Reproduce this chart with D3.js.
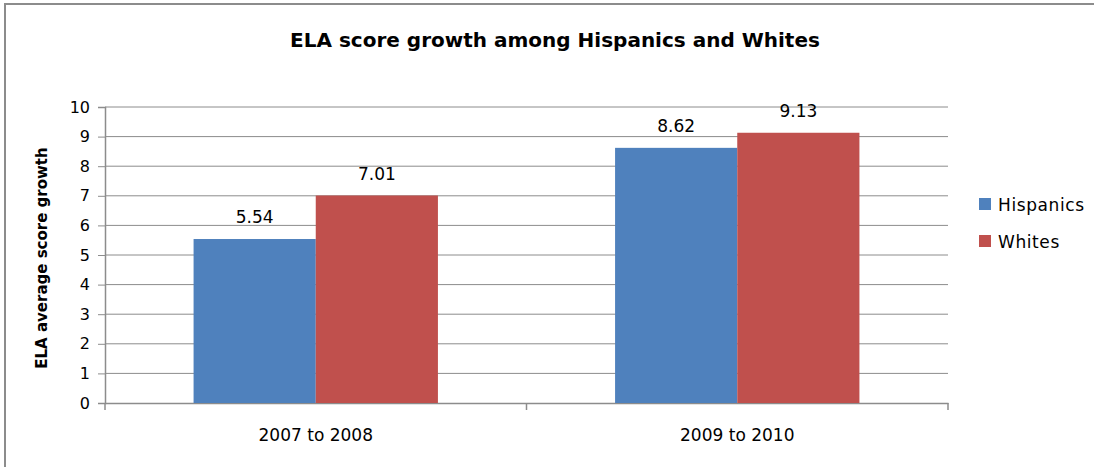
<!DOCTYPE html>
<html>
<head>
<meta charset="utf-8">
<script src="https://cdn.jsdelivr.net/npm/d3@7"></script>
<style>
  body { margin: 0; background: #fff; }
  text { font-family: "DejaVu Sans", sans-serif; fill: #000; }
</style>
</head>
<body>
<div id="chart"></div>
<script>
// Chart data
const categories = ["2007 to 2008", "2009 to 2010"];
const seriesNames = ["Hispanics", "Whites"];
const hispanics = [5.54, 8.62];
const whites = [7.01, 9.13];
const yTicks = [0, 1, 2, 3, 4, 5, 6, 7, 8, 9, 10];
const colors = ["#4F81BD", "#C0504D"];

const W = 1094, H = 467;
const margin = { top: 107, right: 146, bottom: 64, left: 105 },
      width = W - margin.left - margin.right,
      height = H - margin.top - margin.bottom;

const svg = d3.select("#chart")
    .append("svg")
    .attr("width", W)
    .attr("height", H);

// Outer frame (only left and top edges are visible)
svg.append("rect")
    .attr("x", 5).attr("y", 4)
    .attr("width", W + 20).attr("height", H + 20)
    .attr("fill", "none")
    .attr("stroke", "#8c8c8c")
    .attr("stroke-width", 2);

// Title
svg.append("text")
    .attr("x", 555)
    .attr("y", 47)
    .attr("text-anchor", "middle")
    .style("font-weight", "bold")
    .style("font-size", "20px")
    .text("ELA score growth among Hispanics and Whites");

const g = svg.append("g")
    .attr("transform", `translate(${margin.left},${margin.top})`);

// Scales
const x0 = d3.scaleBand()
    .domain(categories)
    .range([0, width])
    .paddingInner(0)
    .paddingOuter(0);

const x1 = d3.scaleBand()
    .domain(seriesNames)
    .range([0, x0.bandwidth()])
    .paddingOuter(0.725)
    .paddingInner(0);

const y = d3.scaleLinear()
    .domain([0, 10])
    .range([height, 0]);

// Gridlines
g.selectAll(".grid")
    .data(yTicks.filter(d => d > 0))
    .enter().append("line")
    .attr("x1", 0).attr("x2", width)
    .attr("y1", d => y(d)).attr("y2", d => y(d))
    .attr("stroke", "#8c8c8c")
    .attr("stroke-width", 1);

// Y axis
const yAxis = g.append("g")
    .call(d3.axisLeft(y).tickValues(yTicks).tickSize(7).tickPadding(8).tickFormat(d3.format("d")));
yAxis.select(".domain").attr("stroke", "#8c8c8c").attr("stroke-width", 1.5);
yAxis.selectAll(".tick line").attr("stroke", "#8c8c8c");
yAxis.selectAll(".tick text")
    .style("font-size", "16px")
    .style("font-family", "DejaVu Sans")
    .attr("fill", "#000");

// X axis
const xAxis = g.append("g")
    .attr("transform", `translate(0,${height})`)
    .call(d3.axisBottom(x0).tickSize(0).tickPadding(26));
xAxis.select(".domain").attr("stroke", "#8c8c8c").attr("stroke-width", 1.5);
xAxis.selectAll(".tick text")
    .style("font-size", "17px")
    .style("font-family", "DejaVu Sans")
    .attr("fill", "#000");

// Category separator ticks
const sepTicks = [0, ...categories.map(c => x0(c) + x0.bandwidth())];
g.selectAll(".sep")
    .data(sepTicks)
    .enter().append("line")
    .attr("x1", d => d).attr("x2", d => d)
    .attr("y1", height).attr("y2", height + 7)
    .attr("stroke", "#8c8c8c")
    .attr("stroke-width", 1.5);

// Y axis title
svg.append("text")
    .attr("transform", `translate(47,${margin.top + height / 2 + 3}) rotate(-90)`)
    .attr("text-anchor", "middle")
    .style("font-weight", "bold")
    .style("font-size", "15px")
    .text("ELA average score growth");

// Bars
const rows = categories.map((c, i) => ({ cat: c, values: [hispanics[i], whites[i]] }));

const groups = g.selectAll(".cat")
    .data(rows)
    .enter().append("g")
    .attr("transform", d => `translate(${x0(d.cat)},0)`);

groups.selectAll("rect")
    .data(d => d.values.map((v, j) => ({ name: seriesNames[j], value: v, j })))
    .enter().append("rect")
    .attr("x", d => x1(d.name))
    .attr("y", d => y(d.value))
    .attr("width", x1.bandwidth())
    .attr("height", d => height - y(d.value))
    .attr("fill", d => colors[d.j]);

groups.selectAll(".label")
    .data(d => d.values.map((v, j) => ({ name: seriesNames[j], value: v })))
    .enter().append("text")
    .attr("x", d => x1(d.name) + x1.bandwidth() / 2)
    .attr("y", d => y(d.value) - 16)
    .attr("text-anchor", "middle")
    .style("font-size", "17px")
    .text(d => d3.format(".2f")(d.value));

// Legend
const legend = svg.append("g")
    .attr("transform", "translate(979,198)");

seriesNames.forEach((name, i) => {
    const row = legend.append("g").attr("transform", `translate(0,${i * 37})`);
    row.append("rect")
        .attr("width", 12).attr("height", 12)
        .attr("fill", colors[i]);
    row.append("text")
        .attr("x", 19)
        .attr("y", 13)
        .style("font-size", "17px")
        .style("letter-spacing", "0.6px")
        .text(name);
});
</script>
</body>
</html>
